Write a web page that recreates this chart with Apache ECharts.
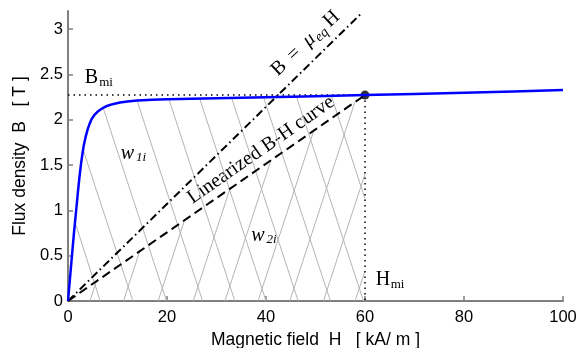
<!DOCTYPE html>
<html lang="en">
<head>
    <meta charset="UTF-8">
    <title>B-H curve</title>
    <script src="https://cdn.jsdelivr.net/npm/echarts@6.0.0/dist/echarts.min.js"></script>
</head>
<body style="margin:0">
    <div id="main" style="width:587px;height:348px;"></div>
    <script>
        // B-H curve
        var curveH = [0, 0.4, 0.8, 1.2, 1.65, 2.0, 2.3, 2.6, 2.9, 3.2, 3.6, 4.0, 4.4, 4.8, 5.3, 5.9, 6.5, 7.2, 8.0, 9.0, 10.5, 12, 14, 17, 20, 30, 40, 50, 60, 70, 80, 90, 100];
        var curveB = [0, 0.25, 0.5, 0.75, 1.0, 1.2, 1.36, 1.5, 1.62, 1.72, 1.82, 1.9, 1.96, 2.01, 2.05, 2.085, 2.11, 2.135, 2.155, 2.172, 2.19, 2.202, 2.212, 2.22, 2.225, 2.238, 2.249, 2.26, 2.272, 2.285, 2.298, 2.313, 2.328];

        // operating point
        var Hmi = 60, Bmi = 2.272;
        // end of the B = mu_eq H line
        var muEqEnd = [59, 3.16];

        // grey "\" lines: start on the curve, end on the axis (or at H = Hmi)
        var downTopH = [1.42, 3.05, 7.1, 13.95, 20.4, 26.6, 33.05, 39.5, 46.15, 53.2];
        var downTopB = [0.87, 1.67, 2.132, 2.212, 2.225, 2.234, 2.242, 2.249, 2.256, 2.264];
        var downEndH = [6.5, 13.1, 19.9, 27.2, 33.7, 40.0, 46.5, 53.0, 59.7, 60];
        var downEndB = [0, 0, 0, 0, 0, 0, 0, 0, 0, 1.128];

        // grey "/" lines: start on the axis, end on the linearized line (or at H = Hmi)
        var upFootH = [4.44, 11.2, 18.2, 25.3, 31.7, 38.4, 44.8, 51.6, 58.0];
        var upTopH = [5.74, 14.48, 23.54, 32.72, 41.0, 49.66, 57.94, 60, 60];
        var upTopB = [0.2175, 0.548, 0.891, 1.239, 1.553, 1.881, 2.194, 1.403, 0.334];

        var yTicks = [0, 0.5, 1, 1.5, 2, 2.5, 3];

        var chart = echarts.init(document.getElementById('main'));

        var greyLines = [];
        downTopH.forEach(function (h, i) {
            greyLines.push({ coords: [[h, downTopB[i]], [downEndH[i], downEndB[i]]] });
        });
        upFootH.forEach(function (h, i) {
            greyLines.push({ coords: [[h, 0], [upTopH[i], upTopB[i]]] });
        });

        var axisColor = '#808080';
        var sans = 'Liberation Sans';
        var serif = 'Liberation Serif';

        function label(x, y, text, font) {
            return { type: 'text', x: x, y: y, style: { text: text, font: font, fill: '#000', align: 'center', verticalAlign: 'middle' } };
        }

        var option = {
            animation: false,
            grid: { left: 68, right: 24, top: 11, bottom: 47, outerBoundsMode: 'none' },
            xAxis: {
                type: 'value', min: 0, max: 100, interval: 20,
                name: 'Magnetic field  H   [ kA/ m ]',
                nameLocation: 'middle', nameGap: 29,
                nameTextStyle: { color: '#000', fontFamily: sans, fontSize: 17.5 },
                axisLine: { lineStyle: { color: axisColor, width: 2 } },
                axisTick: { inside: true, length: 5, lineStyle: { color: axisColor, width: 1.5 } },
                axisLabel: { color: '#000', fontFamily: sans, fontSize: 16.5, margin: 8 },
                splitLine: { show: false }
            },
            yAxis: {
                type: 'value', min: 0, max: 3.2, interval: 0.5,
                name: 'Flux density  B   [ T ]',
                nameLocation: 'middle', nameGap: 37,
                nameTextStyle: { color: '#000', fontFamily: sans, fontSize: 17.5 },
                axisLine: { lineStyle: { color: axisColor, width: 2 } },
                axisTick: { inside: true, length: 5, customValues: yTicks, lineStyle: { color: axisColor, width: 1.5 } },
                axisLabel: { color: '#000', fontFamily: sans, fontSize: 16.5, margin: 5, customValues: yTicks },
                splitLine: { show: false }
            },
            series: [
                {
                    type: 'lines', coordinateSystem: 'cartesian2d',
                    silent: true,
                    lineStyle: { color: '#b4b4b4', width: 1, opacity: 1 },
                    data: greyLines
                },
                {
                    // dotted guides to the operating point
                    type: 'line', showSymbol: false, silent: true,
                    lineStyle: { color: '#000', width: 1.5, type: [1.5, 4] },
                    data: [[0, Bmi], [Hmi, Bmi], [Hmi, 0]]
                },
                {
                    type: 'line', showSymbol: false, silent: true,
                    lineStyle: { color: '#000', width: 2, type: [8, 3.5, 1.5, 3.5] },
                    data: [[0, 0], muEqEnd]
                },
                {
                    type: 'line', showSymbol: false, silent: true,
                    lineStyle: { color: '#000', width: 2, type: [9, 5] },
                    data: [[0, 0], [Hmi, Bmi]]
                },
                {
                    type: 'line', showSymbol: false, silent: true,
                    lineStyle: { color: '#0000ff', width: 2.5, join: 'round' },
                    data: curveH.map(function (h, i) { return [h, curveB[i]]; })
                },
                {
                    type: 'scatter', silent: true,
                    symbol: 'circle', symbolSize: 9,
                    itemStyle: { color: '#000' },
                    data: [[Hmi, Bmi]]
                }
            ],
            graphic: [
                label(91.5, 78, 'B', '20px ' + serif),
                label(106, 83, 'mi', '13px ' + serif),
                label(383, 280, 'H', '20px ' + serif),
                label(397.5, 285, 'mi', '13px ' + serif),
                label(127.5, 154, 'w', 'italic 20px ' + serif),
                label(141, 158, '1i', 'italic 13px ' + serif),
                label(258, 236, 'w', 'italic 20px ' + serif),
                label(271.5, 240, '2i', 'italic 13px ' + serif),
                {
                    type: 'text', x: 261, y: 150, rotation: 34.8 * Math.PI / 180,
                    style: { text: 'Linearized B-H curve', font: '20px ' + serif, fill: '#000', align: 'center', verticalAlign: 'middle' }
                },
                {
                    type: 'group', x: 279, y: 68, rotation: 43 * Math.PI / 180,
                    children: [
                        label(0, 0, 'B', '20px ' + serif),
                        label(20.6, 0, '=', '20px ' + serif),
                        label(41.3, 0, 'μ', 'italic 20px ' + serif),
                        label(54, 5, 'eq', 'italic 14px ' + serif),
                        label(72, 0, 'H', '20px ' + serif)
                    ]
                }
            ]
        };

        chart.setOption(option);
    </script>
</body>
</html>
